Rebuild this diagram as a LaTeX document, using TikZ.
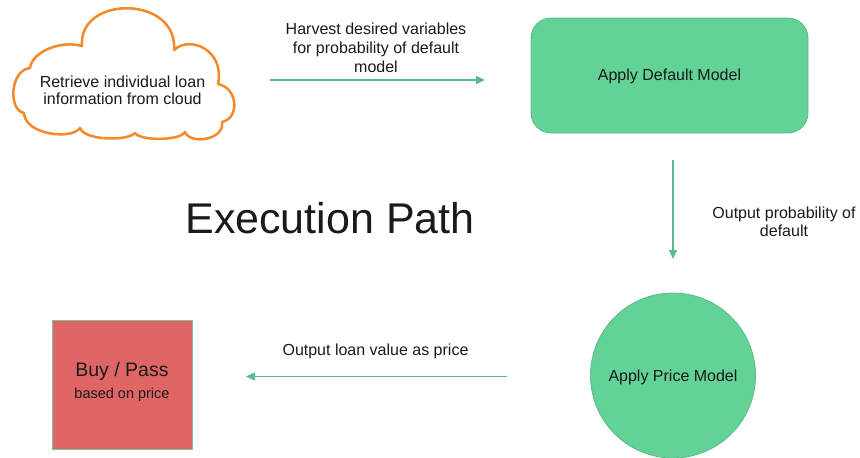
\documentclass[tikz,border=0pt]{standalone}
\usepackage{fontspec}
\setmainfont{Liberation Sans}
\usetikzlibrary{arrows.meta}

\definecolor{flowgreen}{HTML}{57BB8A}
\definecolor{modelfill}{HTML}{63D297}
\definecolor{modeledge}{HTML}{5DB98B}
\definecolor{decisionfill}{HTML}{E06666}
\definecolor{decisionedge}{HTML}{7DC495}
\definecolor{cloudorange}{HTML}{F5892A}
\definecolor{inktext}{HTML}{1A1A1A}

\tikzset{
  txt/.style={inner sep=0pt, text=inktext, font=\fontsize{16}{19}\selectfont},
  flow/.style={draw=flowgreen, line width=1.3pt,
               -{Triangle[length=9pt,width=8pt]}},
  modelbox/.style={draw=modeledge, line width=0.8pt, fill=modelfill},
  decision/.style={draw=decisionedge, line width=0.8pt, fill=decisionfill},
  cloudline/.style={draw=cloudorange, line width=2.5pt, line join=round, fill=white},
}

\begin{document}
\begin{tikzpicture}[x=1pt, y=-1pt]
  \useasboundingbox (0,0) rectangle (860,458);

  % cloud outline, traced bump by bump
  \draw[cloudline]
    (24,113) .. controls (8,110) and (10,70) .. (30,68)
    .. controls (32,52) and (60,40) .. (82,46)
    .. controls (78,-5) and (178,-5) .. (174,50)
    .. controls (190,35) and (225,50) .. (218,84)
    .. controls (238,88) and (240,118) .. (222,122)
    .. controls (225,140) and (190,145) .. (185,132)
    .. controls (180,141) and (140,141) .. (135,133)
    .. controls (128,141) and (85,141) .. (80,128)
    .. controls (72,140) and (25,135) .. cycle;
  \node[txt, align=center, anchor=south, font=\fontsize{16}{17}\selectfont]
    (cloud) at (122.5,104.5) {Retrieve individual loan\\information from cloud};

  % model boxes and decision box
  \node[modelbox, rounded corners=20pt, minimum width=277pt, minimum height=115pt]
    (default) at (669.5,75.5) {};
  \node[txt, anchor=base] (defaulttxt) at (669.5,80.5) {Apply Default Model};

  \node[modelbox, circle, minimum size=165pt] (price) at (673,375.5) {};
  \node[txt, anchor=base] (pricetxt) at (673,381.5) {Apply Price Model};

  \node[decision, minimum width=140pt, minimum height=129pt] (buy) at (122,384.5) {};
  \node[txt, anchor=base, font=\fontsize{19.5}{22}\selectfont] (buytitle) at (122,376) {Buy / Pass};
  \node[txt, anchor=base, font=\fontsize{14.5}{17}\selectfont] (buysub) at (122,398) {based on price};

  % heading
  \node[txt, anchor=base, font=\fontsize{43}{50}\selectfont] (title) at (330,233) {Execution Path};

  % connector end points
  \coordinate (harvestA) at (270,80);
  \coordinate (harvestB) at (485,80);
  \coordinate (probA) at (673,160);
  \coordinate (probB) at (673,259);
  \coordinate (valueA) at (507,376.5);
  \coordinate (valueB) at (246,376.5);

  \draw[flow] (harvestA) -- (harvestB);
  \draw[flow] (probA) -- (probB);
  \draw[flow] (valueA) -- (valueB);

  % connector labels
  \node[txt, align=center, anchor=south, font=\fontsize{16}{19.2}\selectfont]
    (harvestlbl) at (376,73) {Harvest desired variables\\for probability of default\\model};
  \node[txt, align=center, anchor=south, font=\fontsize{16}{18}\selectfont]
    (problbl) at (784,237) {Output probability of\\default};
  \node[txt, anchor=base] (valuelbl) at (375.5,355.7) {Output loan value as price};
\end{tikzpicture}
\end{document}
